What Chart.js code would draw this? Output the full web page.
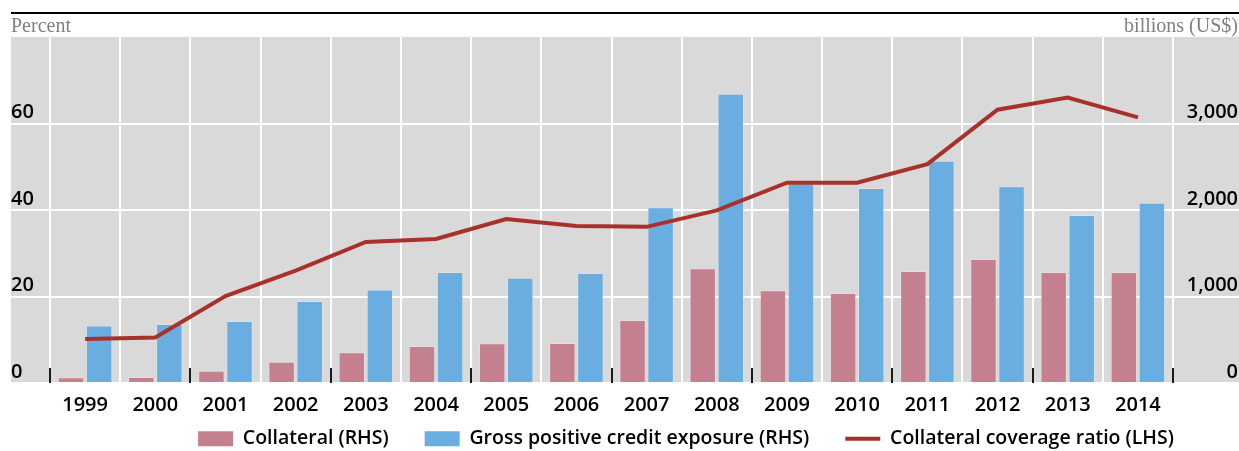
<!DOCTYPE html>
<html>
<head>
<meta charset="utf-8">
<script src="https://cdn.jsdelivr.net/npm/chart.js@4.4.1/dist/chart.umd.min.js"></script>
<style>
  html, body { margin: 0; padding: 0; background: #ffffff; }
  #wrap { position: relative; width: 1239px; height: 451px; }
</style>
</head>
<body>
<div id="wrap"><canvas id="chart"></canvas></div>
<script>
// ---- data ----
const years = ['1999','2000','2001','2002','2003','2004','2005','2006','2007','2008','2009','2010','2011','2012','2013','2014'];
const collateral = [66, 69, 142, 246, 356, 428, 460, 462, 728, 1326, 1072, 1040, 1295, 1434, 1282, 1282];
const grossExposure = [666, 681, 717, 948, 1080, 1283, 1216, 1272, 2031, 3344, 2307, 2253, 2568, 2276, 1941, 2084];
const coverageRatio = [10.2, 10.5, 20.1, 26.0, 32.6, 33.3, 37.9, 36.3, 36.1, 39.9, 46.3, 46.3, 50.6, 63.2, 66.0, 61.4];
const leftTicks = [0, 20, 40, 60];
const rightTicks = [0, 1000, 2000, 3000];
const seriesNames = ['Collateral (RHS)', 'Gross positive credit exposure (RHS)', 'Collateral coverage ratio (LHS)'];
const leftCaption = 'Percent';
const rightCaption = 'billions (US$)';

// ---- styles ----
const SANS = "'Open Sans', 'Noto Sans', sans-serif";
const SERIF = "'Liberation Serif', 'DejaVu Serif', serif";
const WEIGHT = 600;
const BG = '#d9d9d9';
const PINK = '#c4808f';
const BLUE = '#6aade0';
const RED = '#a9312c';

const decor = {
  id: 'decor',
  afterLayout(chart) {
    const lg = chart.legend;
    if (lg) {
      lg.top = 393; lg.bottom = chart.height;
      lg.left = 133; lg.right = chart.width;
    }
  },
  beforeDraw(chart) {
    const ctx = chart.ctx;
    const ya = chart.scales.y, yb = chart.scales.y1, ca = chart.chartArea;
    ctx.save();
    ctx.fillStyle = BG;
    ctx.fillRect(ya.left, ca.top, chart.width - ya.left, ca.bottom - ca.top);
    ctx.fillStyle = '#000';
    ctx.fillRect(ya.left, 12, chart.width - ya.left, 2);
    ctx.fillStyle = '#7f7f7f';
    ctx.font = '20px ' + SERIF;
    ctx.textBaseline = 'alphabetic';
    ctx.textAlign = 'left';
    ctx.fillText(leftCaption, ya.left, 32);
    ctx.textAlign = 'right';
    ctx.fillText(rightCaption, yb.right, 32);
    ctx.restore();
  },
  afterDatasetsDraw(chart) {
    const ctx = chart.ctx, xs = chart.scales.x, ca = chart.chartArea;
    const n = chart.data.labels.length, step = xs.width / n;
    ctx.save();
    ctx.strokeStyle = '#1a1a1a';
    ctx.lineWidth = 2;
    for (let i = 0; i <= n; i += 2) {
      const x = Math.round(xs.left + i * step);
      ctx.beginPath();
      ctx.moveTo(x, ca.bottom - 15);
      ctx.lineTo(x, ca.bottom);
      ctx.stroke();
    }
    ctx.restore();
  }
};

const fmt = v => Number(v).toLocaleString('en-US');
const tickFont = { family: SANS, size: 20, weight: WEIGHT };
const legendFont = { family: SANS, size: 19.5, weight: WEIGHT };

new Chart(document.getElementById('chart'), {
  data: {
    labels: years,
    datasets: [
      { type: 'bar', label: seriesNames[0], data: collateral, yAxisID: 'y1', order: 2,
        backgroundColor: PINK, borderColor: 'rgba(255,255,255,0.18)', borderWidth: 1,
        categoryPercentage: 0.8, barPercentage: 0.94 },
      { type: 'bar', label: seriesNames[1], data: grossExposure, yAxisID: 'y1', order: 2,
        backgroundColor: BLUE, borderColor: 'rgba(255,255,255,0.18)', borderWidth: 1,
        categoryPercentage: 0.8, barPercentage: 0.94 },
      { type: 'line', label: seriesNames[2], data: coverageRatio, yAxisID: 'y', order: 1,
        borderColor: RED, backgroundColor: RED, borderWidth: 4, pointRadius: 0, tension: 0 }
    ]
  },
  options: {
    responsive: true,
    maintainAspectRatio: false,
    animation: false,
    layout: { padding: { top: 37, left: 11, right: 1, bottom: 0 } },
    scales: {
      x: {
        offset: true,
        border: { display: false },
        grid: { color: '#ffffff', lineWidth: 2, offset: true, drawTicks: false },
        ticks: { color: '#000', font: tickFont, padding: 10, maxRotation: 0, autoSkip: false },
        afterFit(s) { s.height = 40; }
      },
      y: {
        position: 'left', min: 0, max: 80,
        border: { display: false },
        grid: { color: '#ffffff', lineWidth: 2, drawTicks: true, tickLength: 39, tickColor: '#ffffff' },
        afterBuildTicks(s) { s.ticks = leftTicks.map(v => ({ value: v })); },
        ticks: { color: '#000', font: tickFont, padding: 0, crossAlign: 'far', labelOffset: -11,
                 callback: v => fmt(v) },
        afterFit(s) { s.width = 39; }
      },
      y1: {
        position: 'right', min: 0, max: 4000,
        border: { display: false },
        grid: { color: '#ffffff', lineWidth: 2, drawOnChartArea: false, drawTicks: true, tickLength: 66, tickColor: '#ffffff' },
        afterBuildTicks(s) { s.ticks = rightTicks.map(v => ({ value: v })); },
        ticks: { color: '#000', font: tickFont, padding: 0, crossAlign: 'far', labelOffset: -11,
                 callback: v => fmt(v) },
        afterFit(s) { s.width = 65; }
      }
    },
    plugins: {
      tooltip: { enabled: false },
      legend: {
        position: 'bottom',
        maxHeight: 28,
        labels: {
          color: '#000',
          font: legendFont,
          usePointStyle: true,
          pointStyleWidth: 35,
          boxHeight: 15,
          padding: 36,
          sort: (a, b) => a.datasetIndex - b.datasetIndex,
          generateLabels(chart) {
            const items = Chart.defaults.plugins.legend.labels.generateLabels(chart);
            items.forEach(it => {
              const ds = chart.data.datasets[it.datasetIndex];
              if (ds.type === 'line') {
                it.pointStyle = 'line'; it.lineWidth = 4; it.strokeStyle = ds.borderColor;
              } else {
                it.pointStyle = 'rect'; it.lineWidth = 0; it.fillStyle = ds.backgroundColor;
              }
            });
            return items;
          }
        }
      }
    }
  },
  plugins: [decor]
});
</script>
</body>
</html>
